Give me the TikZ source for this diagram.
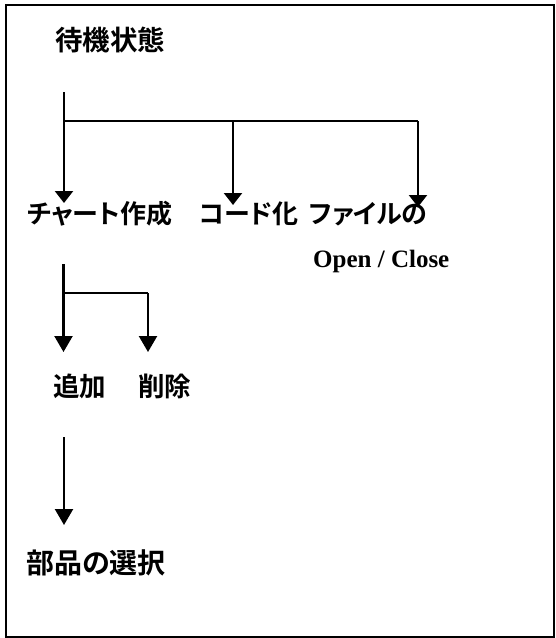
\documentclass[tikz,border=0pt]{standalone}
\usepackage{fontspec}
\setmainfont{Liberation Serif}
\newfontfamily\jpfont[RawFeature=+palt]{Noto Sans CJK JP Bold}
\usetikzlibrary{arrows.meta}
\begin{document}
\begin{tikzpicture}[x=1pt,y=-1pt,
  lbl/.style={inner sep=0pt,anchor=base west,font=\jpfont\fontsize{26}{26}\selectfont},
  big/.style={lbl,font=\jpfont\fontsize{27.5}{27.5}\selectfont},
  lat/.style={inner sep=0pt,anchor=base west,font=\bfseries\fontsize{25}{25}\selectfont},
  ln/.style={line width=2.3pt},
  arr/.style={ln,-{Triangle[width=18pt,length=12pt]}},
  arrb/.style={ln,-{Triangle[width=18pt,length=16pt]}}]
\useasboundingbox (0,0) rectangle (555,638);
\draw[line width=2pt] (6,5) rectangle (553.5,636.5);
% texts
\node[big] (wait) at (55,50) {待機状態};
\node[lbl] (chart) at (27,223) {チャート作成};
\node[lbl] (code) at (199,223) {コード化};
\node[lbl] (file) at (309,223) {ファイルの};
\node[lat] (oc) at (313,267) {Open / Close};
\node[lbl,font=\jpfont\fontsize{26.5}{26.5}\selectfont] (add) at (53,396) {追加};
\node[lbl,font=\jpfont\fontsize{26.5}{26.5}\selectfont] (del) at (138,396) {削除};
\node[lbl,font=\jpfont\fontsize{28}{28}\selectfont] (sel) at (26,573) {部品の選択};
% coordinates
\coordinate (s1) at (64,92);
\coordinate (j1) at (64,121);
\coordinate (j2) at (233,121);
\coordinate (j3) at (418,121);
\coordinate (e1) at (64,203);
\coordinate (e2) at (233,205);
\coordinate (e3) at (418,207);
\coordinate (s2) at (63.5,264);
\coordinate (k1) at (63.5,293);
\coordinate (k2) at (148,293);
\coordinate (f1) at (63.5,352);
\coordinate (f2) at (148,352);
\coordinate (s3) at (64,437);
\coordinate (g1) at (64,525);
% connectors
\draw[arr] (s1) -- (e1);
\draw[ln] (j1) -- (j3);
\draw[arr] (j2) -- (e2);
\draw[arr] (j3) -- (e3);
\draw[arrb] (s2) -- (f1);
\draw[ln] (k1) -- (k2);
\draw[arrb] (k2) -- (f2);
\draw[arrb] (s3) -- (g1);
\end{tikzpicture}
\end{document}
